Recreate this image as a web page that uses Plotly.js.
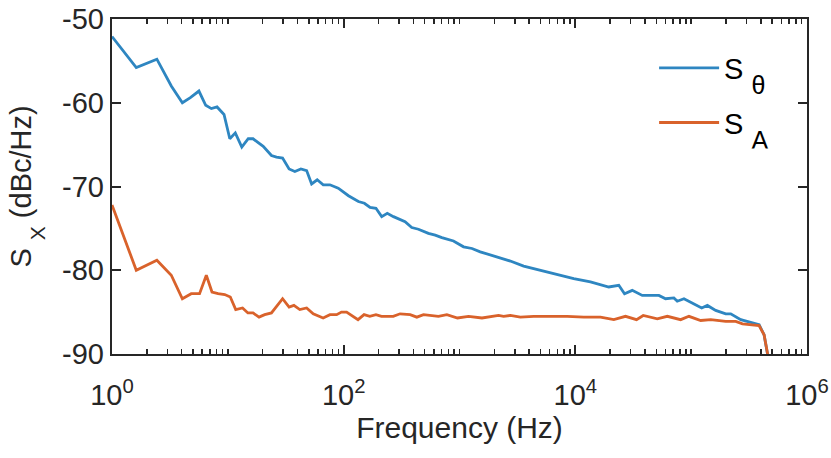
<!DOCTYPE html>
<html>
<head>
<meta charset="utf-8">
<script src="https://cdn.plot.ly/plotly-3.0.1.min.js"></script>
<style>html,body{margin:0;padding:0;background:#fff;}#chart{width:831px;height:458px;}</style>
</head>
<body>
<div id="chart"></div>
<script>
// S_theta series (Hz, dBc/Hz)
var freqTheta = [1.0, 1.62, 2.44, 3.25, 4.05, 4.75, 5.63, 6.44, 7.21, 8.07, 9.27, 10.4, 11.6, 13.2, 15.0, 16.5, 20.2, 23.8, 26.3, 29.7, 33.8, 37.9, 42.7, 47.9, 52.9, 59.1, 66.6, 76.1, 89.8, 110, 134, 151, 169, 190, 213, 238, 269, 307, 339, 387, 442, 539, 617, 704, 887, 1084, 1281, 1510, 2107, 2747, 3580, 4994, 6963, 9683, 13500, 19450, 23730, 26590, 30980, 37830, 52650, 60120, 70950, 75860, 86650, 105800, 123300, 138000, 162800, 198800, 219600, 268000, 316000, 386000, 426000, 456000, 470000];
var sTheta = [-52.1, -55.8, -54.8, -58.0, -60.0, -59.4, -58.6, -60.3, -60.7, -60.5, -61.4, -64.3, -63.6, -65.3, -64.3, -64.3, -65.2, -66.3, -66.5, -66.6, -67.9, -68.2, -67.9, -68.1, -69.7, -69.2, -69.8, -69.8, -70.2, -71.1, -71.8, -72.0, -72.5, -72.6, -73.6, -73.2, -73.6, -73.9, -74.2, -74.9, -75.1, -75.6, -75.8, -76.1, -76.5, -77.2, -77.4, -77.8, -78.4, -78.9, -79.5, -80.0, -80.5, -81.0, -81.4, -82.0, -81.8, -82.8, -82.4, -83.0, -83.0, -83.4, -83.3, -83.7, -83.4, -84.0, -84.5, -84.2, -84.8, -85.2, -85.2, -85.9, -86.2, -86.5, -87.7, -90.0, -92.0];
// S_A series (Hz, dBc/Hz)
var freqA = [1.0, 1.62, 2.44, 3.25, 4.05, 4.83, 5.70, 6.52, 7.30, 8.24, 9.40, 10.5, 11.7, 13.4, 14.9, 16.5, 18.6, 20.8, 23.8, 26.3, 29.7, 33.8, 37.2, 41.8, 47.9, 54.6, 66.5, 76.1, 87.0, 95.7, 106, 133, 150, 168, 190, 212, 237, 268, 307, 375, 428, 489, 658, 778, 961, 1197, 1563, 1907, 2175, 2403, 2747, 3352, 4369, 6093, 8493, 11830, 16490, 21490, 27120, 33760, 38560, 51000, 62260, 81140, 95710, 120900, 147500, 198800, 242600, 277300, 316000, 386000, 426000, 456000, 470000];
var sA = [-72.2, -80.0, -78.8, -80.6, -83.4, -82.8, -82.8, -80.6, -82.6, -82.8, -82.9, -83.2, -84.7, -84.5, -85.1, -85.1, -85.6, -85.3, -85.1, -84.3, -83.4, -84.4, -84.2, -84.7, -84.5, -85.2, -85.7, -85.3, -85.3, -85.0, -85.0, -85.9, -85.3, -85.5, -85.3, -85.5, -85.5, -85.5, -85.2, -85.3, -85.6, -85.3, -85.5, -85.3, -85.7, -85.5, -85.7, -85.5, -85.4, -85.5, -85.4, -85.6, -85.5, -85.5, -85.5, -85.6, -85.6, -85.9, -85.5, -85.9, -85.4, -85.8, -85.5, -85.9, -85.5, -86.0, -85.9, -86.1, -86.1, -86.4, -86.5, -86.6, -87.7, -89.9, -92.0];

var xTickVals = [1, 100, 10000, 1000000];
var xTickText = ['10<sup>0</sup>', '10<sup>2</sup>', '10<sup>4</sup>', '10<sup>6</sup>'];
var yTickVals = [-90, -80, -70, -60, -50];
var yTickText = ['-90', '-80', '-70', '-60', '-50'];

var minorVals = [];
for (var d = 0; d < 6; d++) {
  for (var k = 2; k <= 10; k++) {
    var v = k * Math.pow(10, d);
    if (xTickVals.indexOf(v) < 0) minorVals.push(v);
  }
}

var axColor = '#262626';
var fontFam = '"Liberation Sans", Arial, Helvetica, sans-serif';

var traces = [
  {x: freqTheta, y: sTheta, type: 'scatter', mode: 'lines',
   name: 'S <span style="font-size:25px;baseline-shift:-15px">θ</span>',
   legendgroup: 'g1', line: {color: '#2e86c1', width: 2.8}},
  {x: freqA, y: sA, type: 'scatter', mode: 'lines',
   name: 'S <span style="font-size:25px;baseline-shift:-15px">A</span>',
   legendgroup: 'g2', line: {color: '#d9622b', width: 2.8}}
];

var layout = {
  width: 831, height: 458,
  margin: {l: 112, r: 24, t: 19, b: 104},
  paper_bgcolor: '#fff', plot_bgcolor: '#fff',
  font: {family: fontFam, size: 29, color: axColor},
  showlegend: true,
  legend: {x: 0.78, y: 0.93, xanchor: 'left', yanchor: 'top', bgcolor: 'rgba(0,0,0,0)',
           font: {family: fontFam, size: 29, color: '#000'}, itemwidth: 60, tracegroupgap: 14},
  xaxis: {
    type: 'log', range: [0, 6],
    tickmode: 'array', tickvals: xTickVals, ticktext: xTickText,
    ticks: 'inside', ticklen: 9, tickwidth: 2, tickcolor: axColor,
    ticklabelstandoff: 14,
    minor: {tickmode: 'array', tickvals: minorVals, ticks: 'inside', ticklen: 5, tickwidth: 1.5, tickcolor: axColor, showgrid: false},
    showline: true, linewidth: 2.2, linecolor: axColor, mirror: 'ticks',
    showgrid: false, zeroline: false,
    tickfont: {family: fontFam, size: 29, color: axColor},
    title: {text: 'Frequency (Hz)', font: {family: fontFam, size: 30, color: axColor}, standoff: 6}
  },
  yaxis: {
    range: [-90, -50],
    tickmode: 'array', tickvals: yTickVals, ticktext: yTickText,
    ticks: 'inside', ticklen: 9, tickwidth: 2, tickcolor: axColor,
    showline: true, linewidth: 2.2, linecolor: axColor, mirror: 'ticks',
    showgrid: false, zeroline: false,
    tickfont: {family: fontFam, size: 29, color: axColor},
    title: {text: 'S <span style="font-size:21px;baseline-shift:-14px">X</span> (dBc/Hz)', font: {family: fontFam, size: 29, color: axColor}, standoff: 22}
  }
};

Plotly.newPlot('chart', traces, layout, {displayModeBar: false, staticPlot: true});
</script>
</body>
</html>
